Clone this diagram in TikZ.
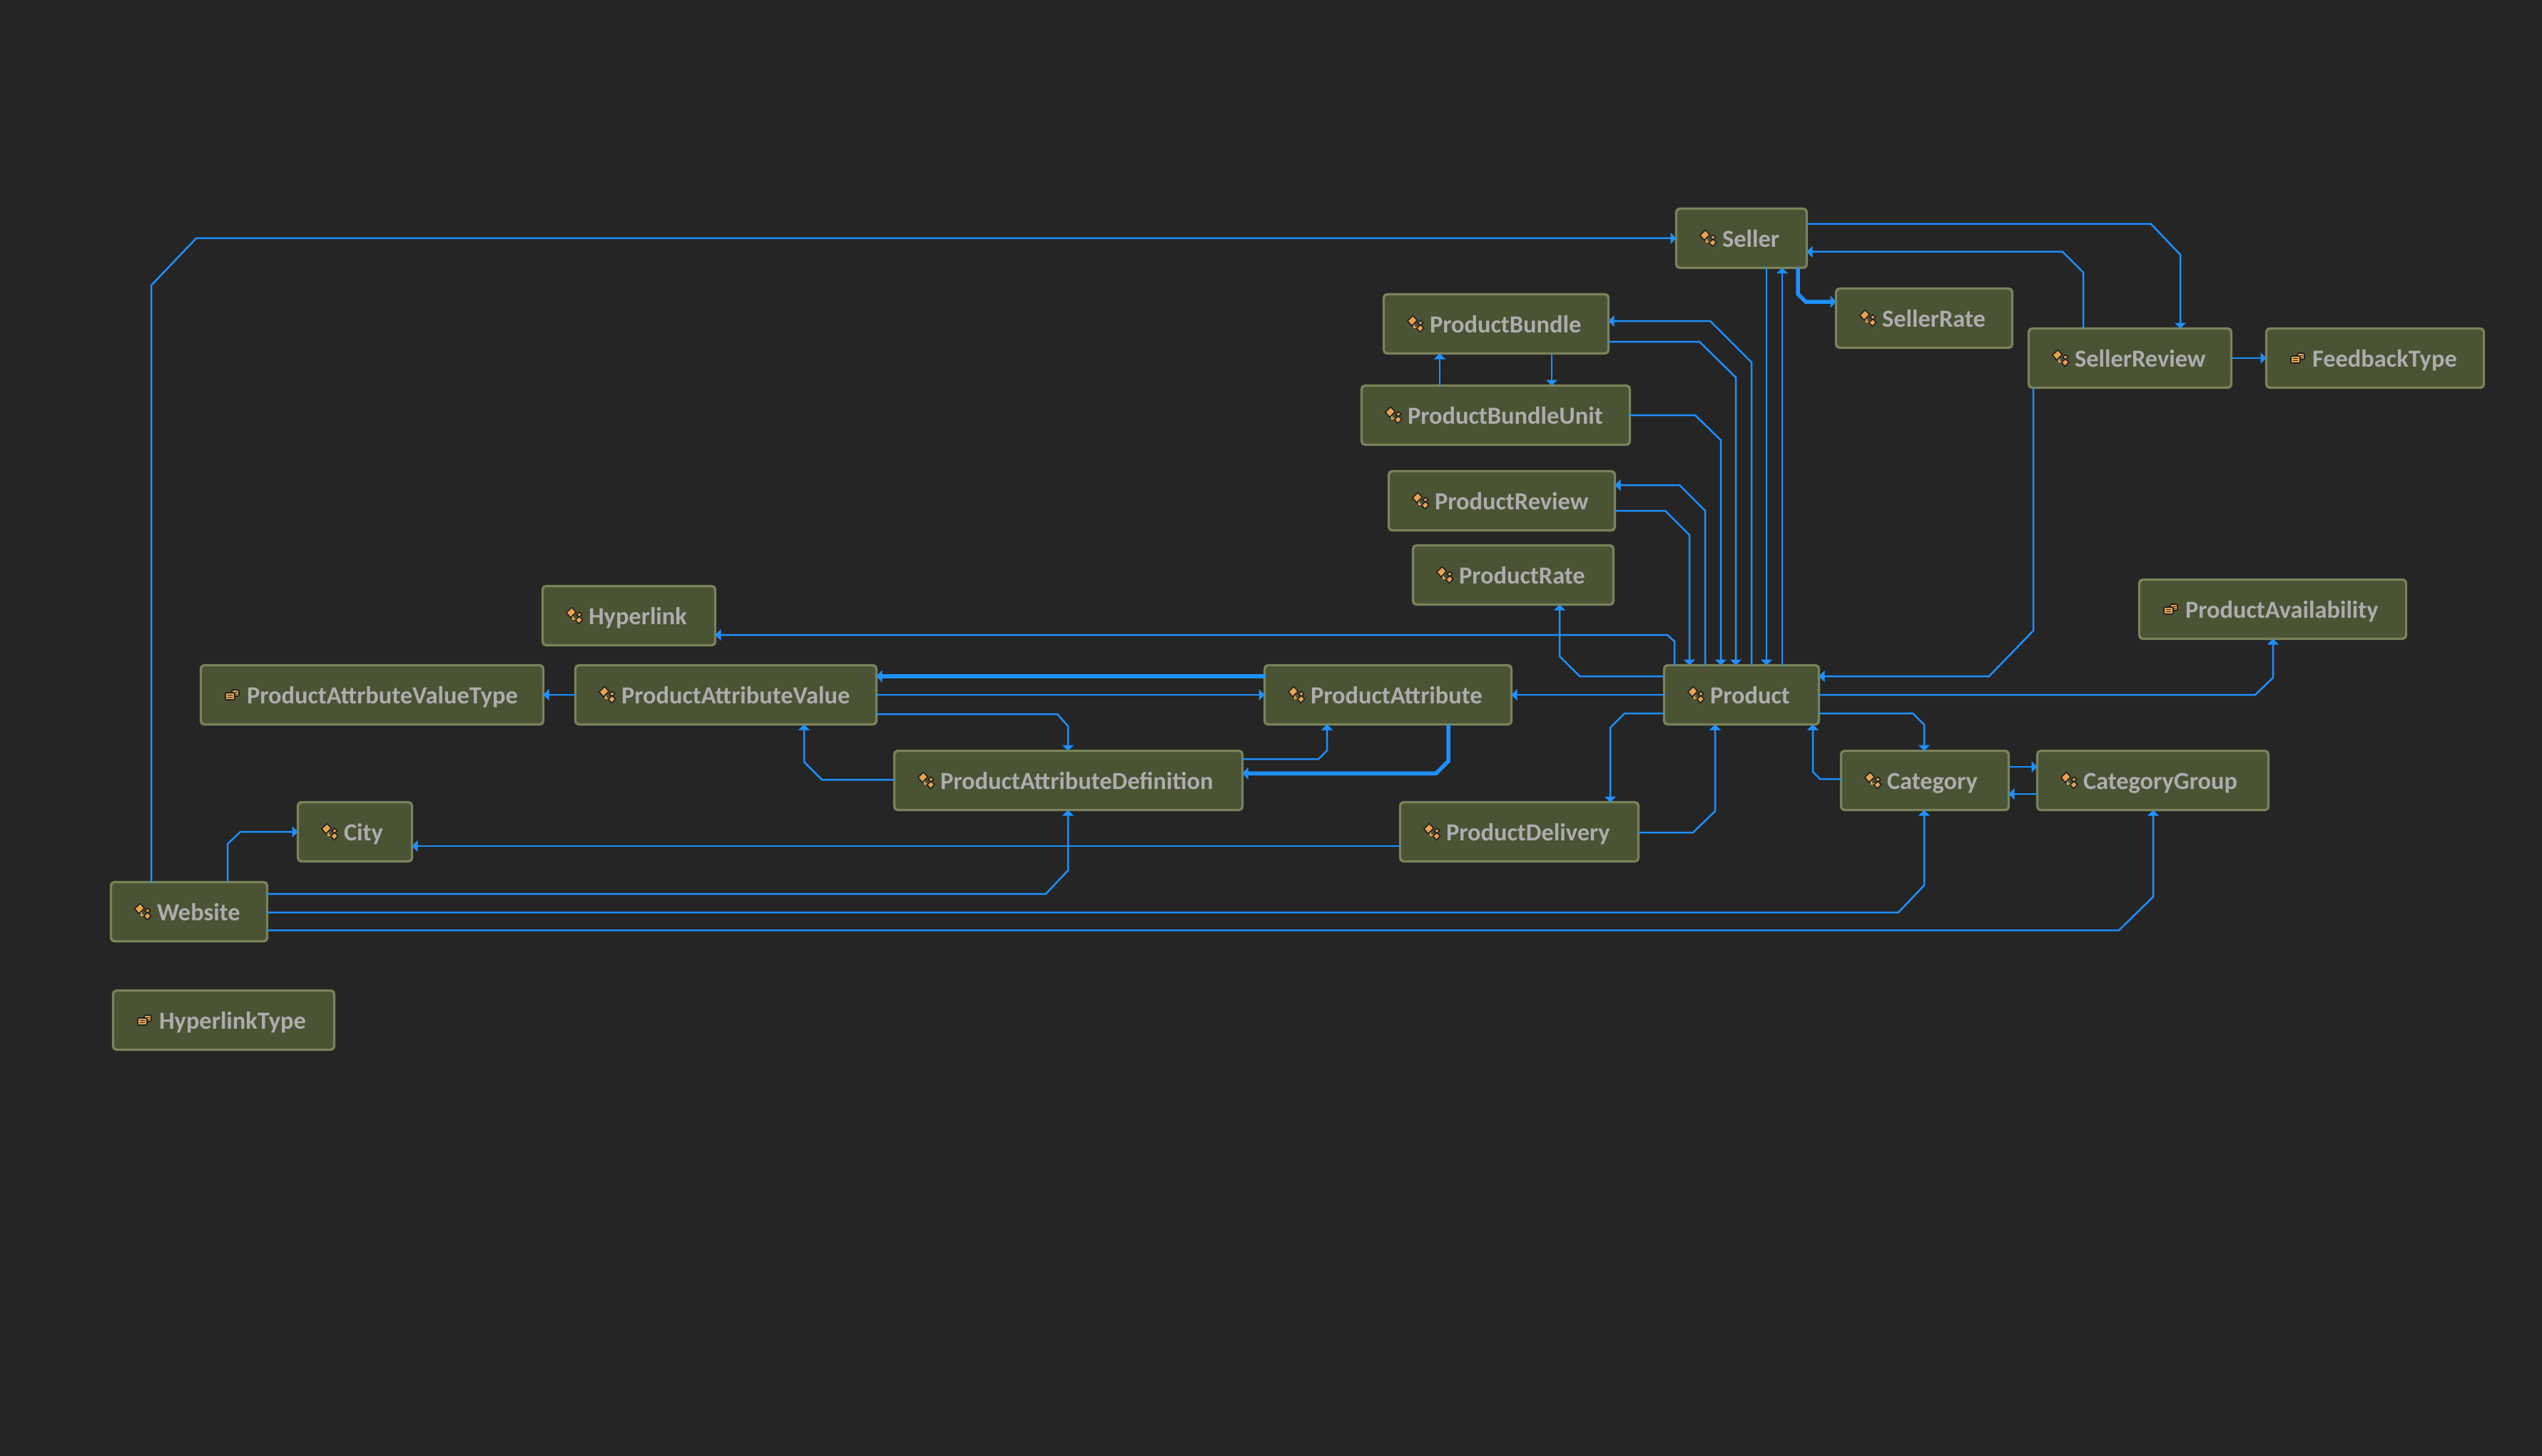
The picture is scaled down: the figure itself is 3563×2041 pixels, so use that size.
\documentclass[tikz,border=0pt]{standalone}
\usepackage{fontspec}
\setmainfont{Carlito}[BoldFont={Carlito Bold}]
\usetikzlibrary{arrows.meta}
\definecolor{bgc}{HTML}{252525}
\definecolor{boxfill}{HTML}{4B5335}
\definecolor{boxline}{HTML}{7A8359}
\definecolor{txtc}{HTML}{ADADAD}
\definecolor{linkc}{HTML}{1E90FF}
\definecolor{icoc}{HTML}{E8A34F}
\definecolor{icod}{HTML}{222222}
\tikzset{
 ebox/.style={draw=boxline,fill=boxfill,line width=3.4pt,rounded corners=5pt,inner sep=0pt,outer sep=0pt,
   text=txtc,align=left,text height=33pt,text depth=8pt,font=\fontsize{34.4}{37}\selectfont\bfseries},
 link/.style={draw=linkc,line width=2.5pt,-{Triangle[length=8pt,width=16pt]}},
 thicklink/.style={draw=linkc,line width=5.5pt,-{Triangle[length=8pt,width=17pt]}},
 entico/.pic={
  \begin{scope}[x=1pt,y=-1pt]
  \draw[icoc,line width=1.6pt] (-2,1)--(-2,5)--(3,5);
  \draw[icod,fill=icoc,line width=1.6pt] (-11.2,-4.3)--(-3.7,-11.5)--(2.5,-5)--(-5.3,2.8)--cycle;
  \draw[icod,fill=icoc,line width=1.6pt] (3.2,-1)--(7,-4.8)--(10.8,-1.7)--(7,2.2)--cycle;
  \draw[icod,fill=icoc,line width=1.6pt] (1.5,6)--(7,1.2)--(11.8,5.7)--(6.3,11.5)--cycle;
  \end{scope}},
 enumico/.pic={
  \begin{scope}[x=1pt,y=-1pt]
  \draw[icod,fill=icoc,line width=1.6pt,rounded corners=1.5pt] (-1,-7) rectangle (9,2);
  \draw[icod,line width=1pt] (3,-4)--(7,-4) (3,-1)--(7,-1);
  \draw[icod,fill=icoc,line width=1.6pt,rounded corners=1.5pt] (-10,-3) rectangle (3,7);
  \draw[icod,line width=1pt] (-7,0)--(0,0) (-7,3.5)--(0,3.5);
  \end{scope}},
}
% name, left, top, right, text, icon
\newcommand{\entbox}[6]{%
 \pgfmathsetmacro{\ew}{#4-#2-3}%
 \pgfmathsetmacro{\ecx}{(#2+#4)/2}%
 \pgfmathsetmacro{\ecy}{#3+43}%
 \node[ebox,text width=\ew pt,minimum height=83pt] (#1) at (\ecx,\ecy) {\hspace*{64.5pt}#5};
 \path (#1.west) ++(44.5,0) pic {#6};
}
\begin{document}
\begin{tikzpicture}[x=1pt,y=-1pt]
\fill[bgc] (0,0) rectangle (3563,2041);
\useasboundingbox (0,0) rectangle (3563,2041);
\entbox{seller}{2348}{291}{2534}{Seller}{entico}
\entbox{sellerrate}{2572}{403}{2822}{SellerRate}{entico}
\entbox{sellerreview}{2842}{459}{3129}{SellerReview}{entico}
\entbox{feedback}{3175}{459}{3483}{FeedbackType}{enumico}
\entbox{bundle}{1938}{411}{2256}{ProductBundle}{entico}
\entbox{bundleunit}{1907}{539}{2286}{ProductBundleUnit}{entico}
\entbox{review}{1945}{659}{2265}{ProductReview}{entico}
\entbox{rate}{1979}{763}{2263}{ProductRate}{entico}
\entbox{hyperlink}{759}{820}{1004}{Hyperlink}{entico}
\entbox{avail}{2997}{811}{3374}{ProductAvailability}{enumico}
\entbox{valuetype}{280}{931}{763}{ProductAttrbuteValueType}{enumico}
\entbox{attrvalue}{805}{931}{1230}{ProductAttributeValue}{entico}
\entbox{attr}{1771}{931}{2120}{ProductAttribute}{entico}
\entbox{product}{2331}{931}{2551}{Product}{entico}
\entbox{delivery}{1961}{1123}{2298}{ProductDelivery}{entico}
\entbox{attrdef}{1252}{1051}{1743}{ProductAttributeDefinition}{entico}
\entbox{category}{2579}{1051}{2817}{Category}{entico}
\entbox{catgroup}{2854}{1051}{3181}{CategoryGroup}{entico}
\entbox{city}{416}{1123}{579}{City}{entico}
\entbox{website}{154}{1235}{376}{Website}{entico}
\entbox{hyperlinktype}{157}{1387}{470}{HyperlinkType}{enumico}

% Seller area
\draw[link] (website.north -| 212,0) -- (212,400) -- (275,334) -- (seller.west |- 0,334);
\draw[link] (seller.east |- 0,314) -- (3015,314) -- (3056,357) -- (sellerreview.north -| 3056,0);
\draw[link] (sellerreview.north -| 2920,0) -- (2920,382) -- (2891,353) -- (seller.east |- 0,353);
\draw[thicklink] (seller.south -| 2520,0) -- (2520,412) -- (2531,423) -- (sellerrate.west |- 0,423);
\draw[link] (seller.south -| 2476,0) -- (product.north -| 2476,0);
\draw[link] (product.north -| 2498,0) -- (seller.south -| 2498,0);
\draw[link] (sellerreview.south -| 2850,0) -- (2850,884) -- (2788,948) -- (product.east |- 0,948);
\draw[link] (sellerreview.east |- 0,502) -- (feedback.west |- 0,502);
% Bundle
\draw[link] (product.north -| 2455,0) -- (2455,508) -- (2397,450) -- (bundle.east |- 0,450);
\draw[link] (bundle.east |- 0,479) -- (2382,479) -- (2433,529) -- (product.north -| 2433,0);
\draw[link] (bundleunit.east |- 0,582) -- (2376,582) -- (2412,617) -- (product.north -| 2412,0);
\draw[link] (bundleunit.north -| 2018,0) -- (bundle.south -| 2018,0);
\draw[link] (bundle.south -| 2175,0) -- (bundleunit.north -| 2175,0);
% Review
\draw[link] (product.north -| 2390,0) -- (2390,716) -- (2354,680) -- (review.east |- 0,680);
\draw[link] (review.east |- 0,716) -- (2334,716) -- (2368,750) -- (product.north -| 2368,0);
% Rate and hyperlink
\draw[link] (product.west |- 0,948) -- (2214,948) -- (2186,920) -- (rate.south -| 2186,0);
\draw[link] (product.north -| 2347,0) -- (2347,899) -- (2337,890) -- (hyperlink.east |- 0,890);
% Product lines
\draw[link] (product.west |- 0,974) -- (attr.east |- 0,974);
\draw[link] (product.west |- 0,1000) -- (2277,1000) -- (2257,1020) -- (delivery.north -| 2257,0);
\draw[link] (delivery.east |- 0,1167) -- (2373,1167) -- (2404,1137) -- (product.south -| 2404,0);
\draw[link] (category.west |- 0,1092) -- (2551,1092) -- (2541,1082) -- (product.south -| 2541,0);
\draw[link] (product.east |- 0,1000) -- (2681,1000) -- (2697,1016) -- (category.north -| 2697,0);
\draw[link] (product.east |- 0,974) -- (3161,974) -- (3186,950) -- (avail.south -| 3186,0);
\draw[link] (category.east |- 0,1075) -- (catgroup.west |- 0,1075);
\draw[link] (catgroup.west |- 0,1113) -- (category.east |- 0,1113);
% Attributes
\draw[thicklink] (attr.west |- 0,948) -- (attrvalue.east |- 0,948);
\draw[link] (attrvalue.east |- 0,974) -- (attr.west |- 0,974);
\draw[link] (attrvalue.west |- 0,974) -- (valuetype.east |- 0,974);
\draw[link] (attrvalue.east |- 0,1001) -- (1482,1001) -- (1497,1018) -- (attrdef.north -| 1497,0);
\draw[link] (attrdef.west |- 0,1093) -- (1152,1093) -- (1127,1068) -- (attrvalue.south -| 1127,0);
\draw[link] (attrdef.east |- 0,1064) -- (1848,1064) -- (1860,1052) -- (attr.south -| 1860,0);
\draw[thicklink] (attr.south -| 2030,0) -- (2030,1067) -- (2013,1084) -- (attrdef.east |- 0,1084);
% Website and delivery
\draw[link] (delivery.west |- 0,1186) -- (city.east |- 0,1186);
\draw[link] (website.north -| 319,0) -- (319,1183) -- (337,1166) -- (city.west |- 0,1166);
\draw[link] (website.east |- 0,1253) -- (1466,1253) -- (1497,1220) -- (attrdef.south -| 1497,0);
\draw[link] (website.east |- 0,1279) -- (2661,1279) -- (2697,1241) -- (category.south -| 2697,0);
\draw[link] (website.east |- 0,1304) -- (2970,1304) -- (3018,1257) -- (catgroup.south -| 3018,0);
\end{tikzpicture}
\end{document}
